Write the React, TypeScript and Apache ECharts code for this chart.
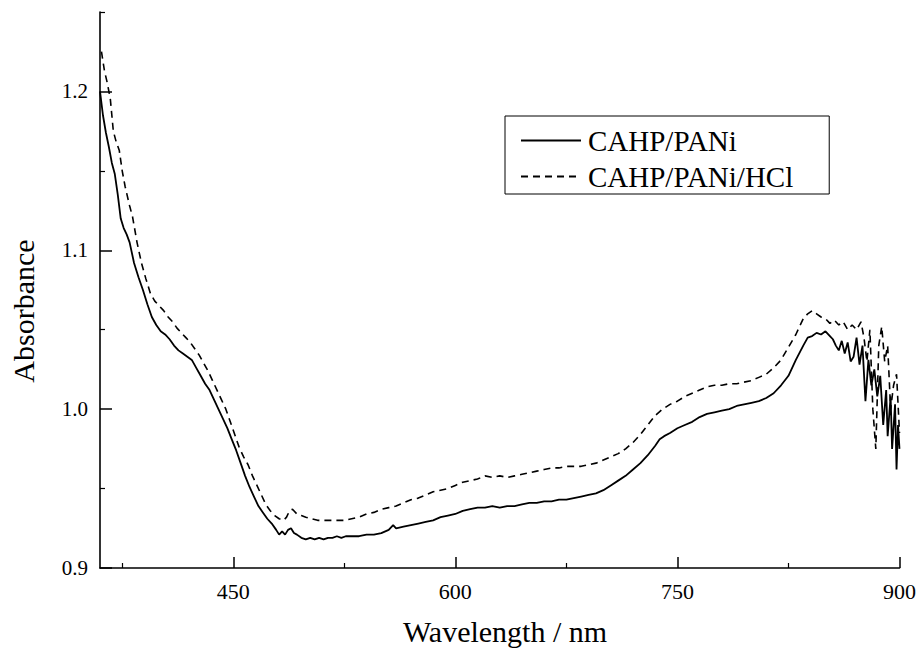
import React, { useEffect, useRef } from "react";
import * as echarts from "echarts";

// Wavelength (nm) and absorbance
const solidX = [360,362,364,366,368,370,372,374,376,378,380,383,386,389,392,395,398,401,404,407,410,413,416,419,422,425,428,431,434,437,440,443,446,449,452,455,458,461,464,467,470,473,476,479,481,483,485,487,489,491,493,496,499,502,505,508,511,514,517,520,523,526,530,535,540,545,550,555,558,560,565,570,575,580,585,590,595,600,605,610,615,620,625,630,635,640,645,650,655,660,665,670,675,680,685,690,695,700,705,710,715,720,725,730,735,738,741,745,750,755,760,765,770,775,780,785,790,795,800,805,810,815,820,825,830,835,838,841,844,847,850,853,855,857,859,861,863,865,867,869,871,873,875,877,879,881,883,885,887,889,891,892,894,895,897,898,899,900];
const solidY = [1.2,1.185,1.174,1.165,1.155,1.148,1.135,1.12,1.114,1.11,1.105,1.092,1.083,1.075,1.066,1.058,1.053,1.049,1.047,1.044,1.04,1.037,1.035,1.033,1.031,1.026,1.021,1.016,1.012,1.006,1.0,0.994,0.988,0.981,0.974,0.966,0.958,0.951,0.945,0.939,0.935,0.931,0.928,0.924,0.921,0.923,0.921,0.924,0.925,0.922,0.921,0.919,0.918,0.919,0.918,0.919,0.918,0.919,0.919,0.92,0.919,0.92,0.92,0.92,0.921,0.921,0.922,0.924,0.927,0.925,0.926,0.927,0.928,0.929,0.93,0.932,0.933,0.934,0.936,0.937,0.938,0.938,0.939,0.938,0.939,0.939,0.94,0.941,0.941,0.942,0.942,0.943,0.943,0.944,0.945,0.946,0.947,0.949,0.952,0.955,0.958,0.962,0.966,0.971,0.977,0.981,0.983,0.985,0.988,0.99,0.992,0.995,0.997,0.998,0.999,1.0,1.002,1.003,1.004,1.005,1.007,1.01,1.015,1.021,1.031,1.04,1.045,1.046,1.048,1.047,1.049,1.046,1.044,1.04,1.037,1.043,1.035,1.042,1.03,1.033,1.045,1.028,1.04,1.005,1.031,1.015,1.025,1.008,1.021,0.99,1.012,0.983,1.008,0.975,1.003,0.962,0.99,0.975];

const dashX = [361,363,365,367,369,371,373,375,377,380,382,385,388,391,394,397,400,403,406,409,412,415,418,421,424,427,430,433,436,439,442,445,448,451,454,457,460,463,466,469,472,475,478,481,484,486,488,490,493,496,499,503,507,511,515,520,525,530,535,540,545,550,555,560,565,570,575,580,585,590,595,600,605,610,615,620,625,630,635,640,645,650,655,660,665,670,675,680,685,690,695,700,705,710,715,720,725,730,735,740,745,750,755,760,765,770,775,780,785,790,795,800,805,810,815,820,825,830,835,838,841,844,847,850,853,856,859,862,865,868,871,874,876,878,880,882,884,886,888,890,892,894,896,898,900];
const dashY = [1.225,1.213,1.205,1.195,1.175,1.168,1.163,1.15,1.14,1.128,1.121,1.105,1.092,1.082,1.073,1.068,1.065,1.062,1.058,1.055,1.051,1.048,1.045,1.042,1.038,1.034,1.029,1.024,1.018,1.012,1.006,1.0,0.992,0.984,0.976,0.97,0.965,0.958,0.952,0.946,0.94,0.936,0.933,0.931,0.93,0.932,0.936,0.937,0.934,0.933,0.932,0.931,0.93,0.93,0.93,0.93,0.93,0.931,0.932,0.934,0.935,0.937,0.938,0.939,0.941,0.943,0.944,0.946,0.948,0.949,0.95,0.952,0.954,0.955,0.956,0.958,0.957,0.958,0.957,0.958,0.959,0.96,0.961,0.962,0.963,0.963,0.964,0.964,0.964,0.965,0.966,0.968,0.97,0.972,0.975,0.979,0.984,0.99,0.996,1.0,1.003,1.005,1.008,1.01,1.012,1.014,1.015,1.015,1.016,1.016,1.017,1.018,1.02,1.022,1.026,1.031,1.039,1.047,1.057,1.06,1.062,1.06,1.058,1.057,1.054,1.056,1.053,1.055,1.05,1.053,1.05,1.055,1.045,1.03,1.05,1.0,0.975,1.04,1.052,1.03,1.04,1.0,1.015,1.022,0.985];

const xMajor = [450, 600, 750, 900];
const xMinor = [375, 525, 675, 825];
const yMajor = [0.9, 1.0, 1.1, 1.2];
const yMinor = [0.95, 1.05, 1.15, 1.25];

const seriesNames = ["CAHP/PANi", "CAHP/PANi/HCl"];
const xTitle = "Wavelength / nm";
const yTitle = "Absorbance";

const FONT = "'Liberation Serif', 'Times New Roman', 'DejaVu Serif', serif";

export default function App() {
  const ref = useRef<HTMLDivElement>(null);
  useEffect(() => {
    if (!ref.current) return;
    const chart = echarts.init(ref.current, undefined, { renderer: "svg" });
    const axisLine = { show: true, lineStyle: { color: "#000", width: 1.6 } };
    const grid = { left: 100, right: 16, top: 12, bottom: 83 };
    chart.setOption({
      animation: false,
      backgroundColor: "#fff",
      textStyle: { fontFamily: FONT },
      grid,
      legend: {
        orient: "vertical",
        left: 505,
        top: 116,
        padding: [10, 36, 3, 15],
        itemWidth: 60,
        itemHeight: 14,
        itemGap: 7,
        borderColor: "#000",
        borderWidth: 1,
        itemStyle: { opacity: 0 },
        data: seriesNames,
        textStyle: { fontFamily: FONT, fontSize: 29, color: "#000", lineHeight: 29, padding: [0, 0, 0, 2] },
      },
      xAxis: [
        {
          type: "value",
          min: 360,
          max: 900,
          position: "bottom",
          axisLine,
          splitLine: { show: false },
          axisTick: { show: true, inside: true, length: 11, customValues: xMajor, lineStyle: { color: "#000", width: 1.5 } },
          axisLabel: { customValues: xMajor, color: "#000", fontFamily: FONT, fontSize: 22, margin: 12 },
        },
        {
          type: "value",
          min: 360,
          max: 900,
          position: "bottom",
          axisLine: { show: false },
          splitLine: { show: false },
          axisTick: { show: true, inside: true, length: 5, customValues: xMinor, lineStyle: { color: "#000", width: 1.2 } },
          axisLabel: { show: false },
        },
      ],
      yAxis: [
        {
          type: "value",
          min: 0.9,
          max: 1.25,
          position: "left",
          axisLine,
          splitLine: { show: false },
          axisTick: { show: true, inside: true, length: 12, customValues: yMajor, lineStyle: { color: "#000", width: 1.5 } },
          axisLabel: {
            customValues: yMajor,
            color: "#000",
            fontFamily: FONT,
            fontSize: 21,
            margin: 12,
            formatter: (v: number) => v.toFixed(1),
          },
        },
        {
          type: "value",
          min: 0.9,
          max: 1.25,
          position: "left",
          axisLine: { show: false },
          splitLine: { show: false },
          axisTick: { show: true, inside: true, length: 5, customValues: yMinor, lineStyle: { color: "#000", width: 1.2 } },
          axisLabel: { show: false },
        },
      ],
      series: [
        {
          name: seriesNames[0],
          type: "line",
          xAxisIndex: 0,
          yAxisIndex: 0,
          symbol: "none",
          data: solidX.map((x, i) => [x, solidY[i]]),
          lineStyle: { color: "#000", width: 1.8, type: "solid" },
          itemStyle: { color: "#000" },
        },
        {
          name: seriesNames[1],
          type: "line",
          xAxisIndex: 0,
          yAxisIndex: 0,
          symbol: "none",
          data: dashX.map((x, i) => [x, dashY[i]]),
          lineStyle: { color: "#000", width: 1.6, type: [7, 5] },
          itemStyle: { color: "#000" },
        },
      ],
      graphic: [
        {
          type: "text",
          x: 505,
          y: 631,
          style: { text: xTitle, fontFamily: FONT, fontSize: 30, fill: "#000", textAlign: "center", textVerticalAlign: "middle" },
        },
        {
          type: "text",
          x: 23,
          y: 311,
          rotation: Math.PI / 2,
          style: { text: yTitle, fontFamily: FONT, fontSize: 30, fill: "#000", textAlign: "center", textVerticalAlign: "middle" },
        },
      ],
    });
    return () => chart.dispose();
  }, []);
  return <div ref={ref} style={{ position: "absolute", left: 0, top: 0, width: 919, height: 651 }} />;
}
